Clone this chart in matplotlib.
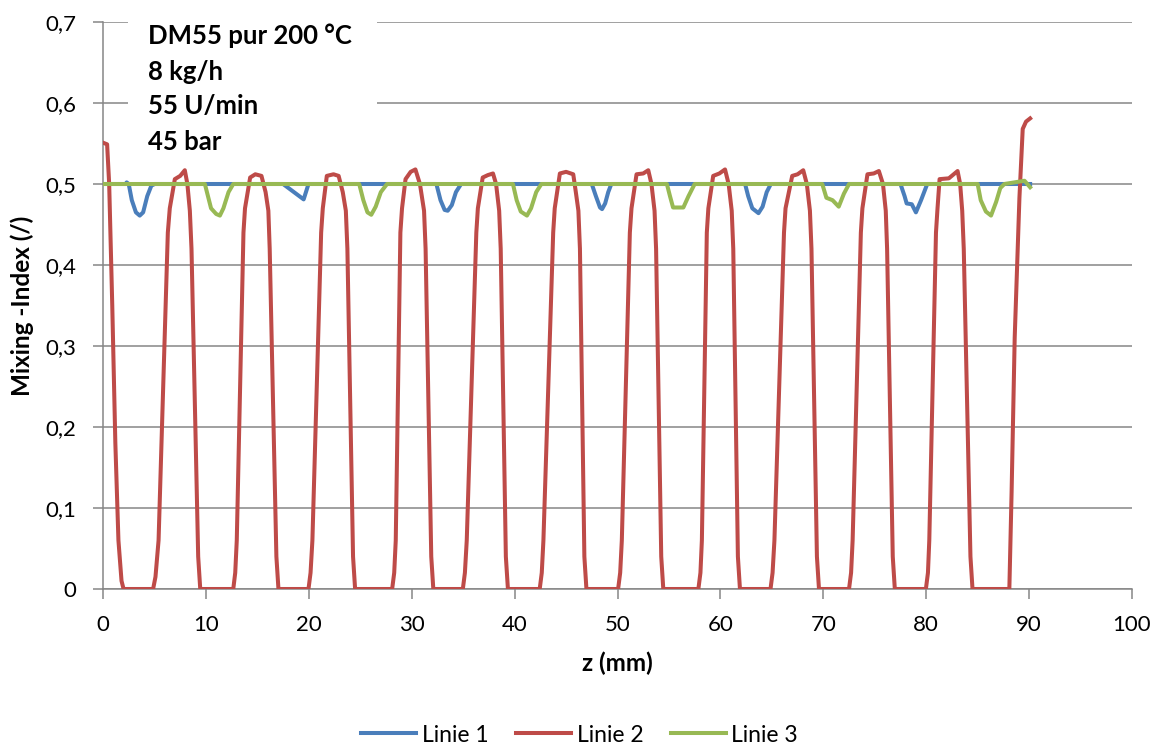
import matplotlib
matplotlib.use("Agg")
import matplotlib.pyplot as plt
from matplotlib.patches import Rectangle

plt.rcParams['font.family'] = ['Lato', 'DejaVu Sans']

# ---- data ----
z_linie1 = [0, 2.2, 2.3, 2.5, 2.8, 3.2, 3.57, 3.9, 4.3, 4.7, 5.03,
            17.5, 19.5, 19.97,
            32.4, 32.8, 33.2, 33.5, 33.9, 34.3, 34.8,
            47.5, 47.9, 48.3, 48.5, 48.8, 49.1, 49.4,
            62.4, 62.7, 63.1, 63.7, 64.1, 64.5, 64.9,
            77.5, 77.9, 78.1, 78.6, 79.0, 79.5, 80.1,
            90.1]
m_linie1 = [0.5, 0.5, 0.502, 0.5, 0.48, 0.465, 0.461, 0.465, 0.485, 0.498, 0.5,
            0.5, 0.481, 0.5,
            0.5, 0.48, 0.468, 0.467, 0.474, 0.49, 0.5,
            0.5, 0.485, 0.471, 0.469, 0.476, 0.49, 0.5,
            0.5, 0.485, 0.47, 0.464, 0.472, 0.49, 0.5,
            0.5, 0.485, 0.476, 0.475, 0.465, 0.48, 0.5,
            0.5]

z_linie2 = [0, 0.4, 0.6, 0.9, 1.2, 1.5, 1.8, 2.0,
            4.87, 5.1, 5.4, 6.3, 6.49, 6.98, 7.5, 7.95, 8.2, 8.44, 8.6, 9.25, 9.45,
            12.66, 12.85, 13.0, 13.65, 13.8, 14.3, 14.8, 15.4, 15.8, 16.07, 16.2, 16.85, 17.05,
            19.97, 20.17, 20.35, 21.2, 21.36, 21.75, 22.4, 22.9, 23.3, 23.6, 23.75, 24.3, 24.5,
            28.1, 28.3, 28.45, 28.9, 29.06, 29.4, 29.9, 30.36, 30.8, 31.2, 31.35, 31.9, 32.1,
            34.97, 35.17, 35.35, 36.28, 36.43, 36.9, 37.4, 37.9, 38.2, 38.5, 38.65, 39.15, 39.35,
            42.44, 42.64, 42.8, 43.75, 43.9, 44.4, 45.0, 45.7, 45.95, 46.2, 46.35, 46.78, 46.98,
            50.06, 50.26, 50.42, 51.2, 51.36, 51.85, 52.5, 52.99, 53.3, 53.6, 53.75, 54.25, 54.45,
            57.86, 58.06, 58.2, 58.68, 58.83, 59.3, 59.9, 60.45, 60.8, 61.1, 61.25, 61.7, 61.9,
            64.87, 65.07, 65.25, 66.18, 66.33, 66.98, 67.5, 68.05, 68.4, 68.7, 68.85, 69.38, 69.58,
            72.5, 72.7, 72.85, 73.65, 73.8, 74.29, 74.9, 75.4, 75.8, 76.07, 76.2, 76.75, 76.95,
            79.97, 80.17, 80.3, 80.95, 81.1, 81.3, 82.2, 83.05, 83.3, 83.5, 83.65, 84.3, 84.5,
            88.08, 88.3, 88.6, 89.06, 89.38, 89.7, 90.1]
m_linie2 = [0.551, 0.549, 0.50, 0.35, 0.18, 0.06, 0.01, 0.0,
            0.0, 0.015, 0.06, 0.44, 0.47, 0.506, 0.51, 0.517, 0.50, 0.467, 0.42, 0.04, 0.0,
            0.0, 0.02, 0.06, 0.44, 0.47, 0.508, 0.512, 0.51, 0.49, 0.467, 0.42, 0.04, 0.0,
            0.0, 0.02, 0.06, 0.44, 0.47, 0.51, 0.512, 0.51, 0.49, 0.467, 0.42, 0.04, 0.0,
            0.0, 0.02, 0.06, 0.44, 0.47, 0.506, 0.515, 0.518, 0.50, 0.467, 0.42, 0.04, 0.0,
            0.0, 0.02, 0.06, 0.44, 0.47, 0.508, 0.511, 0.513, 0.50, 0.467, 0.42, 0.04, 0.0,
            0.0, 0.02, 0.06, 0.44, 0.47, 0.513, 0.515, 0.512, 0.49, 0.467, 0.42, 0.04, 0.0,
            0.0, 0.02, 0.06, 0.44, 0.47, 0.512, 0.513, 0.517, 0.50, 0.467, 0.42, 0.04, 0.0,
            0.0, 0.02, 0.06, 0.44, 0.47, 0.51, 0.513, 0.518, 0.50, 0.467, 0.42, 0.04, 0.0,
            0.0, 0.02, 0.06, 0.44, 0.47, 0.51, 0.512, 0.517, 0.50, 0.467, 0.42, 0.04, 0.0,
            0.0, 0.02, 0.06, 0.44, 0.47, 0.512, 0.513, 0.516, 0.50, 0.467, 0.42, 0.04, 0.0,
            0.0, 0.02, 0.06, 0.44, 0.47, 0.506, 0.507, 0.516, 0.50, 0.467, 0.42, 0.04, 0.0,
            0.0, 0.12, 0.31, 0.483, 0.568, 0.577, 0.581]

z_linie3 = [0, 9.9, 10.2, 10.5, 11.0, 11.36, 11.7, 12.2, 12.66,
            24.9, 25.3, 25.7, 26.07, 26.5, 27.0, 27.6,
            39.84, 40.2, 40.6, 41.2, 41.6, 42.1, 42.6,
            54.8, 55.1, 55.4, 56.4, 56.9, 57.5,
            69.9, 70.3, 70.9, 71.5, 72.0, 72.5,
            85.0, 85.3, 85.8, 86.3, 86.8, 87.2, 87.6,
            89.55, 90.1]
m_linie3 = [0.5, 0.5, 0.485, 0.47, 0.463, 0.461, 0.47, 0.49, 0.5,
            0.5, 0.48, 0.465, 0.462, 0.472, 0.49, 0.5,
            0.5, 0.48, 0.466, 0.461, 0.47, 0.49, 0.5,
            0.5, 0.485, 0.471, 0.471, 0.485, 0.5,
            0.5, 0.483, 0.480, 0.472, 0.488, 0.5,
            0.5, 0.48, 0.466, 0.461, 0.478, 0.495, 0.5,
            0.504, 0.496]

series_names = ["Linie 1", "Linie 2", "Linie 3"]
series_colors = ["#4A7EBB", "#BE4B48", "#98B954"]
x_ticks = [0, 10, 20, 30, 40, 50, 60, 70, 80, 90, 100]
y_ticks = [0, 0.1, 0.2, 0.3, 0.4, 0.5, 0.6, 0.7]
y_tick_labels = ["0", "0,1", "0,2", "0,3", "0,4", "0,5", "0,6", "0,7"]
info_lines = ["DM55 pur 200 °C", "8 kg/h", "55 U/min", "45 bar"]

# ---- figure ----
W, H = 1159, 747
fig = plt.figure(figsize=(W / 100, H / 100), dpi=100)
ax = fig.add_axes([103 / W, 1 - 589 / H, (1132 - 103) / W, (589 - 22) / H])

grid_col = "#868686"
ax.set_xlim(0, 100)
ax.set_ylim(0, 0.7)
ax.set_xticks(x_ticks)
ax.set_yticks(y_ticks)
ax.set_yticklabels(y_tick_labels)
ax.yaxis.grid(True, color=grid_col, linewidth=1.1, zorder=0)
ax.set_axisbelow(True)
for s in ["top", "right"]:
    ax.spines[s].set_visible(False)
for s in ["left", "bottom"]:
    ax.spines[s].set_color(grid_col)
    ax.spines[s].set_linewidth(1.1)
ax.tick_params(axis="both", direction="out", length=7, width=1.1, color=grid_col,
               labelsize=16, labelcolor="black")
ax.tick_params(axis="x", pad=12)
ax.tick_params(axis="y", pad=12)

lw = 2.9
for zz, mm, name, col in zip([z_linie1, z_linie2, z_linie3],
                             [m_linie1, m_linie2, m_linie3],
                             series_names, series_colors):
    ax.plot(zz, mm, color=col, linewidth=lw, label=name, solid_joinstyle="round",
            zorder=3)

# white text box covering gridlines
box = Rectangle(((128 - 103) / (1132 - 103) * 100, 0.7 - (160 - 22) / 810),
                (377 - 128) / (1132 - 103) * 100, (160 - 22) / 810 + 0.05,
                facecolor="white", edgecolor="none", zorder=2, clip_on=False)
ax.add_patch(box)

ys = [36, 72, 106, 142]
for t, yp in zip(info_lines, ys):
    fig.text(148 / W, 1 - yp / H, t, fontsize=18.5, fontweight="bold",
             va="center", ha="left")

ax.set_xlabel("z (mm)", fontsize=17.5, fontweight="bold")
ax.set_ylabel("Mixing -Index (/)", fontsize=17.5, fontweight="bold")
ax.xaxis.set_label_coords(0.5, (589 - 663) / 567)
ax.xaxis.label.set_va("center")
ax.yaxis.set_label_coords((22 - 103) / 1029, 0.5)
ax.yaxis.label.set_va("center")

fig.legend(loc="center", bbox_to_anchor=(0.5, 1 - 735 / H), ncol=3, frameon=False,
           fontsize=16.5, handlelength=2.4, handletextpad=0.25, columnspacing=1.2)

fig.savefig("out.png", dpi=100)
